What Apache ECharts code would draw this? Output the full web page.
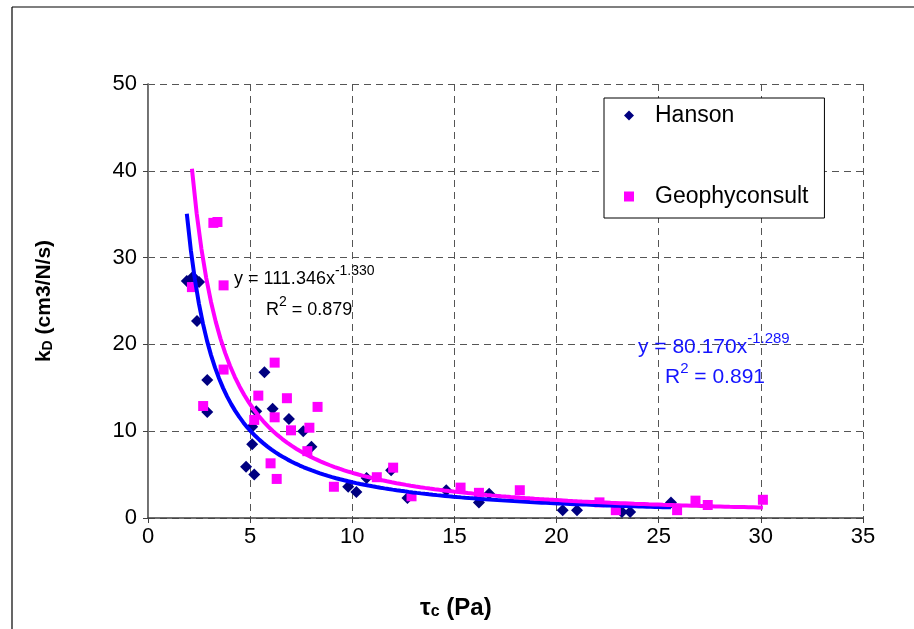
<!DOCTYPE html>
<html>
<head>
<meta charset="utf-8">
<script src="https://cdn.jsdelivr.net/npm/echarts@6/dist/echarts.min.js"></script>
<style>html,body{margin:0;padding:0;background:#fff}#c{width:914px;height:629px}</style>
</head>
<body>
<div id="c"></div>
<script>
// ---- data ----
const hansonX = [1.9, 2.2, 2.5, 2.4, 2.9, 2.9, 5.7, 5.3, 6.1, 6.9, 5.1, 5.1, 4.8, 5.2, 7.6, 8.0, 9.8, 10.2, 10.7, 11.9, 12.7, 14.6, 16.2, 16.7, 20.3, 21.0, 23.2, 23.6, 25.6];
const hansonY = [27.3, 27.8, 27.2, 22.7, 15.9, 12.2, 16.8, 12.3, 12.6, 11.4, 10.5, 8.5, 5.9, 5.0, 10.0, 8.2, 3.6, 3.0, 4.6, 5.5, 2.3, 3.2, 1.8, 2.8, 0.9, 0.9, 0.7, 0.7, 1.8];
const geoX = [3.2, 3.4, 2.15, 3.7, 3.7, 2.7, 6.2, 5.4, 6.8, 6.2, 5.2, 7.0, 6.0, 6.3, 8.3, 7.9, 7.8, 9.1, 11.2, 12.0, 12.9, 15.3, 16.2, 18.2, 22.1, 22.9, 25.9, 26.8, 27.4, 30.1];
const geoY = [34.0, 34.1, 26.6, 26.8, 17.1, 12.9, 17.9, 14.1, 13.8, 11.6, 11.3, 10.1, 6.3, 4.5, 12.8, 10.4, 7.7, 3.6, 4.7, 5.8, 2.5, 3.5, 2.9, 3.2, 1.8, 0.9, 0.9, 2.0, 1.5, 2.1];
// power trend lines as printed on the chart: y = a * x^b
const hansonFit = { a: 80.170, b: -1.289, r2: '0.891' };
const geoFit = { a: 111.346, b: -1.330, r2: '0.879' };
const xTicks = [0, 5, 10, 15, 20, 25, 30, 35];
const yTicks = [0, 10, 20, 30, 40, 50];

const FF = '"Liberation Sans", Arial, Helvetica, sans-serif';

function pairs(xs, ys) { return xs.map((x, i) => [x, ys[i]]); }
function trend(fit, xs) {
  const lo = Math.min(...xs), hi = Math.max(...xs);
  const out = [];
  const n = 120;
  for (let i = 0; i <= n; i++) {
    const x = lo + (hi - lo) * i / n;
    out.push([x, fit.a * Math.pow(x, fit.b)]);
  }
  return out;
}
function eqRich(color, main, sup) {
  return {
    n: { fontSize: main, fontFamily: FF, fill: color, lineHeight: main + 6, verticalAlign: 'bottom' },
    s: { fontSize: sup, fontFamily: FF, fill: color, lineHeight: sup + 1, verticalAlign: 'top' }
  };
}

const chart = echarts.init(document.getElementById('c'), null, { renderer: 'canvas' });
const axisCol = '#404040';
const gridLine = { show: true, lineStyle: { color: '#555', width: 1, type: [7, 5] } };

chart.setOption({
  animation: false,
  backgroundColor: '#fff',
  grid: { left: 148, right: 51, top: 84, bottom: 111, containLabel: false, outerBoundsMode: 'none' },
  xAxis: {
    type: 'value', min: xTicks[0], max: xTicks[xTicks.length - 1], interval: 5,
    axisLine: { show: true, onZero: false, lineStyle: { color: axisCol, width: 1.5 } },
    axisTick: { show: true, length: 5, lineStyle: { color: axisCol } },
    axisLabel: { fontSize: 22, color: '#000', fontFamily: FF, margin: 8 },
    splitLine: gridLine
  },
  yAxis: [{
    type: 'value', min: yTicks[0], max: yTicks[yTicks.length - 1], interval: 10,
    axisLine: { show: true, onZero: false, lineStyle: { color: axisCol, width: 1.5 } },
    axisTick: { show: true, length: 5, lineStyle: { color: axisCol } },
    axisLabel: { fontSize: 22, color: '#000', fontFamily: FF, margin: 11 },
    splitLine: gridLine,
    name: '{k|k}{d|D}{k| (cm3/N/s)}',
    nameLocation: 'middle', nameRotate: 90, nameGap: 93,
    nameTextStyle: {
      rich: {
        k: { fontSize: 21, fontWeight: 'bold', fontFamily: FF, color: '#000', lineHeight: 30, verticalAlign: 'bottom' },
        d: { fontSize: 14, fontWeight: 'bold', fontFamily: FF, color: '#000', lineHeight: 12, verticalAlign: 'bottom' }
      }
    }
  }, {
    type: 'value', position: 'right', min: 0, max: 50, interval: 10,
    axisLine: { show: true, lineStyle: { color: '#777', width: 1 } },
    axisTick: { show: false }, axisLabel: { show: false }, splitLine: { show: false }
  }],
  legend: {
    orient: 'vertical', left: 604, top: 98,
    backgroundColor: '#fff', borderColor: '#000', borderWidth: 1,
    padding: [6, 16, 10, 20], itemGap: 58, itemWidth: 10, itemHeight: 10,
    textStyle: { fontSize: 23, color: '#000', fontFamily: FF, padding: [0, 0, 0, 16] },
    data: [{ name: 'Hanson', icon: 'diamond', itemStyle: { opacity: 1 } }, { name: 'Geophyconsult', icon: 'rect', itemStyle: { opacity: 1 } }]
  },
  series: [
    { name: 'Hanson', type: 'scatter', symbol: 'diamond', symbolSize: 12, data: pairs(hansonX, hansonY),
      itemStyle: { color: '#000080', opacity: 1 }, z: 2 },
    { name: 'Geophyconsult', type: 'scatter', symbol: 'rect', symbolSize: 10, data: pairs(geoX, geoY),
      itemStyle: { color: '#ff00ff', opacity: 1 }, z: 2 },
    { name: 'HansonFit', type: 'line', showSymbol: false, data: trend(hansonFit, hansonX),
      lineStyle: { color: '#0000ff', width: 4 }, itemStyle: { color: '#0000ff' }, z: 3 },
    { name: 'GeoFit', type: 'line', showSymbol: false, data: trend(geoFit, geoX),
      lineStyle: { color: '#ff00ff', width: 4 }, itemStyle: { color: '#ff00ff' }, z: 4 }
  ],
  graphic: [
    { type: 'line', shape: { x1: 12, y1: 7, x2: 914, y2: 7 }, style: { stroke: '#000', lineWidth: 1.2 } },
    { type: 'line', shape: { x1: 12, y1: 7, x2: 12, y2: 629 }, style: { stroke: '#000', lineWidth: 1.2 } },
    { type: 'text', left: 234, top: 264, z: 10,
      style: { text: '{n|y = ' + geoFit.a.toFixed(3) + 'x}{s|' + geoFit.b.toFixed(3) + '}', rich: eqRich('#000', 18, 14) } },
    { type: 'text', left: 266, top: 295, z: 10,
      style: { text: '{n|R}{s|2}{n| = ' + geoFit.r2 + '}', rich: eqRich('#000', 18, 14) } },
    { type: 'text', left: 638, top: 331, z: 10,
      style: { text: '{n|y = ' + hansonFit.a.toFixed(3) + 'x}{s|' + hansonFit.b.toFixed(3) + '}', rich: eqRich('#1414ff', 21, 15) } },
    { type: 'text', left: 665, top: 361, z: 10,
      style: { text: '{n|R}{s|2}{n| = ' + hansonFit.r2 + '}', rich: eqRich('#1414ff', 21, 15) } },
    { type: 'text', left: 420, top: 596, z: 10,
      style: { text: '{t|τ}{c|c}{t| (Pa)}',
        rich: { t: { fontSize: 24, fontWeight: 'bold', fontFamily: FF, fill: '#000', lineHeight: 34, verticalAlign: 'bottom' },
                c: { fontSize: 16, fontWeight: 'bold', fontFamily: FF, fill: '#000', lineHeight: 14, verticalAlign: 'bottom' } } } }
  ]
});
</script>
</body>
</html>
